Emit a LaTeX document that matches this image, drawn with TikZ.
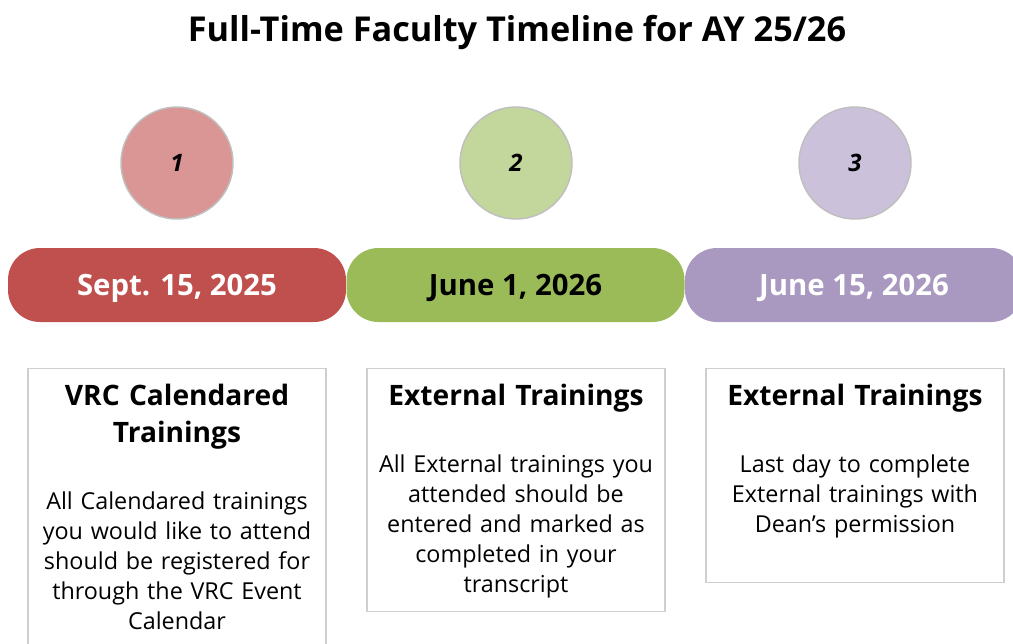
\documentclass[tikz,border=0pt]{standalone}
\usepackage{fontspec}
\setmainfont{Open Sans}
\usetikzlibrary{positioning}
\definecolor{datered}{HTML}{C0504D}
\definecolor{dategreen}{HTML}{9BBB59}
\definecolor{datepurple}{HTML}{A999C0}
\definecolor{numred}{HTML}{D99694}
\definecolor{numgreen}{HTML}{C3D69B}
\definecolor{numpurple}{HTML}{CCC1DA}
\definecolor{numborder}{HTML}{BFBFBF}
\definecolor{cardborder}{HTML}{CFCFCF}
\begin{document}
\begin{tikzpicture}[x=0.75pt,y=-0.75pt,
  num/.style={circle,draw=numborder,line width=1.1pt,minimum size=84pt,inner sep=0pt,font=\fontsize{18}{22}\selectfont\bfseries\itshape},
  pill/.style={rounded corners=24pt,minimum width=253.5pt,minimum height=55.5pt,inner sep=0pt,text height=15.7pt,text depth=0pt,font=\fontsize{22}{26}\selectfont\bfseries},
  card/.style={draw=cardborder,line width=0.9pt,minimum width=223.5pt,anchor=north,inner sep=0pt},
  head/.style={text width=216pt,align=center,anchor=north,inner sep=0pt,font=\fontsize{21.1}{27.75}\selectfont\bfseries},
  body/.style={text width=222pt,align=center,inner sep=0pt,font=\fontsize{17.5}{22.5}\selectfont}]
  \useasboundingbox (0,0) rectangle (1013,643);
  \clip (0,0) rectangle (1013,643);
  \node[font=\fontsize{25.7}{30}\selectfont\bfseries] (title) at (517,33){Full-Time Faculty Timeline for AY 25/26};
  % numbered circles
  \node[num,fill=numred] (n1) at (177,163){1};
  \node[num,fill=numgreen] (n2) at (516,163){2};
  \node[num,fill=numpurple] (n3) at (855,163){3};
  % date bar
  \node[pill,fill=datered,text=white] (d1) at (177,285){Sept. 15, 2025};
  \node[pill,fill=dategreen,text=black] (d2) at (515.5,285){June 1, 2026};
  \node[pill,fill=datepurple,text=white] (d3) at (854,285){June 15, 2026};
  % cards
  \node[card,minimum height=217.5pt] (c1) at (177,368){};
  \node[card,minimum height=182.25pt] (c2) at (516,368){};
  \node[card,minimum height=160.5pt] (c3) at (855,368){};
  \node[head] (h1) at (177,384){VRC Calendared\\Trainings};
  \node[body,below=31.5pt of h1] (b1){All Calendared trainings\\you would like to attend\\should be registered for\\through the VRC Event\\Calendar};
  \node[head] (h2) at (516,384){External Trainings};
  \node[body,below=31.5pt of h2] (b2){All External trainings you\\attended should be\\entered and marked as\\completed in your\\transcript};
  \node[head] (h3) at (855,384){External Trainings};
  \node[body,below=31.5pt of h3] (b3){Last day to complete\\External trainings with\\Dean's permission};
\end{tikzpicture}
\end{document}
